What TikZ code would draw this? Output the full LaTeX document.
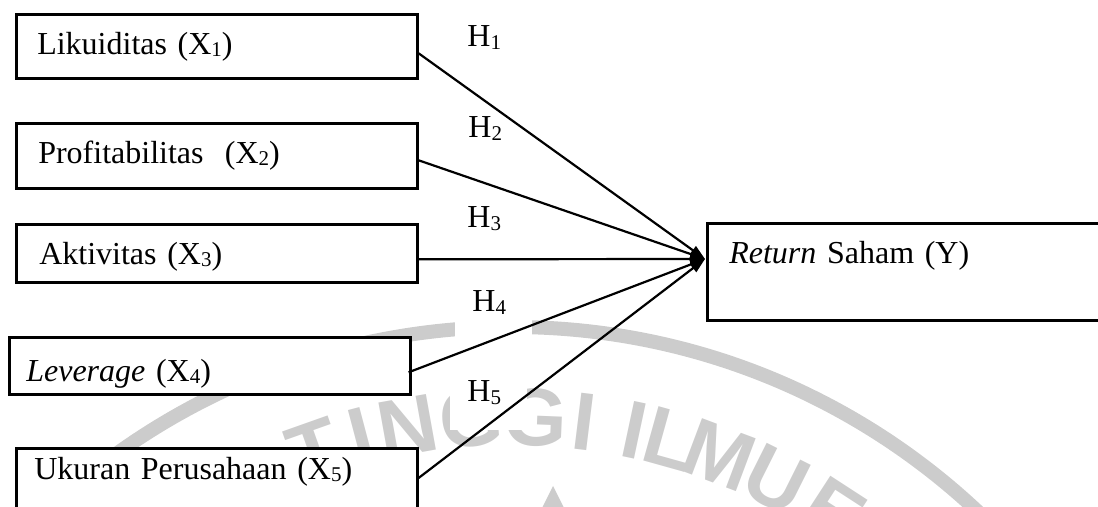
\documentclass[tikz,border=0pt]{standalone}
\usepackage{fontspec}
\setmainfont{Liberation Serif}
\newfontfamily\wmfont{Liberation Sans}
\usetikzlibrary{arrows.meta}
\definecolor{wmgray}{RGB}{204,204,204}
% subscript digits as set in the labels
\newcommand\sbs[1]{\raisebox{-1.2pt}{\fontsize{10.5pt}{12pt}\selectfont #1}}

\begin{document}
\begin{tikzpicture}[x=0.5pt,y=-0.5pt,
  box/.style={draw, line width=1.3pt, fill=white, anchor=north west,
    inner ysep=0pt, align=left, font=\fontsize{16pt}{19pt}\selectfont},
  hyp/.style={fill=white, anchor=base west, inner xsep=8.5pt, inner ysep=0pt,
    text width=21.5pt, align=left, text height=14pt, text depth=14pt,
    font=\fontsize{16pt}{19pt}\selectfont},
  link/.style={line width=1.1pt, -{Triangle[length=7.5pt,width=5pt]}},
  wm/.style={text=wmgray, font=\wmfont\bfseries\fontsize{41pt}{48pt}\selectfont, inner sep=0pt}
]
\useasboundingbox (0,0) rectangle (1098,507);
\clip (0,0) rectangle (1098,507);

% background seal: ring, lettering and emblem tip
\draw[wmgray, line width=7pt] (512,1007) circle[radius=340pt];
\foreach \ch/\a [count=\k] in {T/-19.5, I/-14.8, N/-10.2, G/-4, G/2.3, I/7, I/12, L/15.6, M/20.6, U/26.6, E/33}
  \node[wm, rotate=-\a] (w\k) at ({512+590*sin(\a)},{1007-590*cos(\a)}) {\ch};
\fill[wmgray] (553,486) -- (530,532) -- (576,532) -- cycle;

% hypothesis labels
\node[hyp] (h1) at (450,47)  {H\sbs{1}};
\node[hyp] (h2) at (451,138) {H\sbs{2}};
\node[hyp] (h3) at (450,228) {H\sbs{3}};
\node[hyp] (h4) at (455,312) {H\sbs{4}};
\node[hyp] (h5) at (450,402) {H\sbs{5}};

% variable boxes
\node[box, inner xsep=10.5pt, text width=179.5pt, text height=20pt, text depth=12pt]
  (x1) at (15,13) {Likuiditas (X\sbs{1})};
\node[box, inner xsep=11pt, text width=178.5pt, text height=20pt, text depth=12.5pt]
  (x2) at (15,122) {Profitabilitas\ \ (X\sbs{2})};
\node[box, inner xsep=11.5pt, text width=177.5pt, text height=20pt, text depth=9pt]
  (x3) at (15,223) {Aktivitas (X\sbs{3})};
\node[box, inner xsep=8.5pt, text width=183.5pt, text height=22pt, text depth=6.5pt]
  (x4) at (8,336) {\textit{Leverage} (X\sbs{4})};
\node[box, inner xsep=9pt, text width=182.5pt, text height=15.5pt, text depth=30pt]
  (x5) at (15,447) {Ukuran Perusahaan (X\sbs{5})};
\node[box, inner xsep=11pt, text width=183pt, text height=20pt, text depth=28.5pt]
  (y) at (706,222) {\textit{Return} Saham (Y)};

% connector ends
\coordinate (s1) at ([yshift=-3.5pt]x1.east);
\coordinate (s2) at ([yshift=-2.25pt]x2.east);
\coordinate (s3) at ([yshift=-3pt]x3.east);
\coordinate (s4) at ([xshift=-1.5pt,yshift=-3.25pt]x4.east);
\coordinate (s5) at ([yshift=-15.5pt]x5.north east);
\coordinate (t) at ([xshift=-0.5pt,yshift=-18.5pt]y.north west);

\foreach \s in {s1,s2,s3,s4,s5}
  \draw[link] (\s) -- (t);
\end{tikzpicture}
\end{document}
